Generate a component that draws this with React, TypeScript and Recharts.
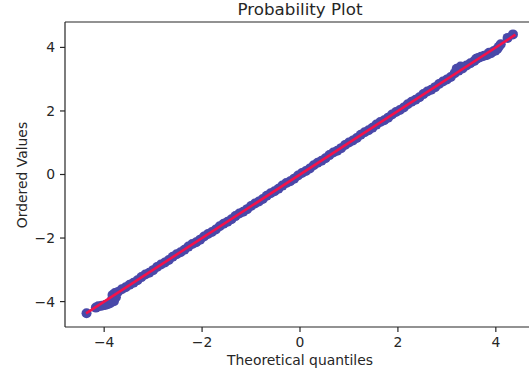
import { ScatterChart, Scatter, XAxis, YAxis } from 'recharts';

// theoretical quantile vs ordered value
const lowerTail: [number, number][] = [
    [-4.36, -4.37], [-4.17, -4.19], [-4.12, -4.15], [-4.05, -4.13], [-3.98, -4.11],
    [-3.93, -4.08], [-3.88, -4.05], [-3.85, -3.96], [-3.83, -3.79], [-3.8, -3.99],
    [-3.78, -3.73], [-3.76, -3.86],
];

const centralBand: [number, number][] = [
    [-3.72, -3.70], [-3.64, -3.61], [-3.56, -3.55], [-3.48, -3.47], [-3.40, -3.41],
    [-3.32, -3.33], [-3.24, -3.23], [-3.16, -3.15], [-3.08, -3.09], [-3.00, -3.01],
    [-2.92, -2.91], [-2.84, -2.83], [-2.76, -2.77], [-2.68, -2.69], [-2.60, -2.59],
    [-2.52, -2.51], [-2.44, -2.45], [-2.36, -2.37], [-2.28, -2.27], [-2.20, -2.19],
    [-2.12, -2.13], [-2.04, -2.05], [-1.96, -1.95], [-1.88, -1.87], [-1.80, -1.81],
    [-1.72, -1.73], [-1.64, -1.63], [-1.56, -1.55], [-1.48, -1.49], [-1.40, -1.41],
    [-1.32, -1.31], [-1.24, -1.23], [-1.16, -1.17], [-1.08, -1.09], [-1.00, -0.99],
    [-0.92, -0.91], [-0.84, -0.85], [-0.76, -0.77], [-0.68, -0.67], [-0.60, -0.59],
    [-0.52, -0.53], [-0.44, -0.45], [-0.36, -0.35], [-0.28, -0.27], [-0.20, -0.21],
    [-0.12, -0.13], [-0.04, -0.03], [0.04, 0.05], [0.12, 0.11], [0.20, 0.19],
    [0.28, 0.29], [0.36, 0.37], [0.44, 0.43], [0.52, 0.51], [0.60, 0.61],
    [0.68, 0.69], [0.76, 0.75], [0.84, 0.83], [0.92, 0.93], [1.00, 1.01],
    [1.08, 1.07], [1.16, 1.15], [1.24, 1.25], [1.32, 1.33], [1.40, 1.39],
    [1.48, 1.47], [1.56, 1.57], [1.64, 1.65], [1.72, 1.71], [1.80, 1.79],
    [1.88, 1.89], [1.96, 1.97], [2.04, 2.03], [2.12, 2.11], [2.20, 2.21],
    [2.28, 2.29], [2.36, 2.35], [2.44, 2.43], [2.52, 2.53], [2.60, 2.61],
    [2.68, 2.67], [2.76, 2.75], [2.84, 2.85], [2.92, 2.93], [3.00, 2.99],
    [3.08, 3.07], [3.16, 3.19], [3.24, 3.27], [3.32, 3.34], [3.40, 3.43],
    [3.48, 3.50], [3.56, 3.57],
];

const upperTail: [number, number][] = [
    [3.2, 3.33], [3.28, 3.4], [3.6, 3.64], [3.64, 3.67], [3.7, 3.71],
    [3.76, 3.74], [3.82, 3.76], [3.86, 3.83], [3.9, 3.82], [3.95, 3.88],
    [3.99, 3.9], [4.03, 3.95], [4.06, 4.02], [4.1, 4.1], [4.24, 4.3], [4.35, 4.41],
];

const fitLine: [number, number][] = [[-4.37, -4.37], [4.4, 4.4]];

const xTicks = [-4, -2, 0, 2, 4];
const yTicks = [-4, -2, 0, 2, 4];

const FONT = 'DejaVu Sans';
const INK = '#262626';

const fmt = (v: number) => (v < 0 ? `\u2212${Math.abs(v)}` : `${v}`);

export default function App() {
    const points = [...lowerTail, ...centralBand, ...upperTail].map(([x, y]) => ({ x, y }));
    const line = fitLine.map(([x, y]) => ({ x, y }));
    const tickStyle = { fontSize: 13.9, fontFamily: FONT, fill: INK };
    const spine = { stroke: INK, strokeWidth: 1.2 };

    return (
        <div style={{ position: 'absolute', left: 0, top: 0, width: 529, height: 377, overflow: 'hidden', background: '#fff' }}>
            <ScatterChart width={545} height={377} margin={{ top: 21, right: 9, bottom: 10, left: 8 }}>
                <XAxis
                    dataKey="x"
                    type="number"
                    domain={[-4.8, 4.8]}
                    ticks={xTicks}
                    tickFormatter={fmt}
                    allowDataOverflow
                    height={40}
                    tick={tickStyle}
                    tickSize={5}
                    tickMargin={5}
                    axisLine={spine}
                    tickLine={spine}
                    label={{
                        content: () => (
                            <text x={300} y={365} textAnchor="middle" fontSize={13.9} fontFamily={FONT} fill={INK}>
                                Theoretical quantiles
                            </text>
                        ),
                    }}
                />
                <XAxis
                    xAxisId="top"
                    orientation="top"
                    dataKey="x"
                    type="number"
                    domain={[-4.8, 4.8]}
                    allowDataOverflow
                    height={1}
                    tick={false}
                    tickLine={false}
                    axisLine={spine}
                    label={{
                        content: () => (
                            <text x={300} y={15} textAnchor="middle" fontSize={16.7} fontFamily={FONT} fill={INK}>
                                Probability Plot
                            </text>
                        ),
                    }}
                />
                <YAxis
                    dataKey="y"
                    type="number"
                    domain={[-4.8, 4.8]}
                    ticks={yTicks}
                    tickFormatter={fmt}
                    allowDataOverflow
                    width={57}
                    tick={tickStyle}
                    tickSize={5}
                    tickMargin={5}
                    axisLine={spine}
                    tickLine={spine}
                    label={{
                        content: () => (
                            <text x={27} y={175} transform="rotate(-90 27 175)" textAnchor="middle" fontSize={13.9} fontFamily={FONT} fill={INK}>
                                Ordered Values
                            </text>
                        ),
                    }}
                />
                <YAxis
                    yAxisId="right"
                    orientation="right"
                    dataKey="y"
                    type="number"
                    domain={[-4.8, 4.8]}
                    allowDataOverflow
                    width={1}
                    tick={false}
                    tickLine={false}
                    axisLine={spine}
                />
                <Scatter
                    data={points}
                    isAnimationActive={false}
                    shape={(p: any) => <circle cx={p.cx} cy={p.cy} r={5} fill="#4949a9" />}
                />
                <Scatter
                    data={line}
                    xAxisId="top"
                    yAxisId="right"
                    isAnimationActive={false}
                    line={{ stroke: '#f4124a', strokeWidth: 2.6 }}
                    lineType="joint"
                    shape={() => <g />}
                />
            </ScatterChart>
        </div>
    );
}
